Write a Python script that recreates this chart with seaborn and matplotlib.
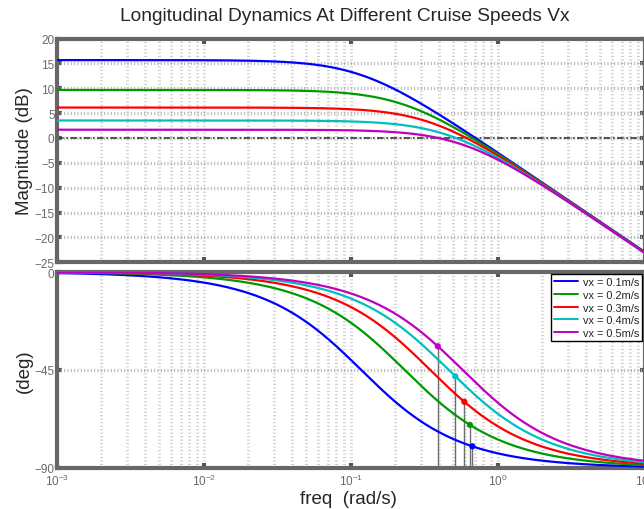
import numpy as np
import pandas as pd
import matplotlib
matplotlib.use("Agg")
import matplotlib.pyplot as plt
import seaborn as sns
from matplotlib.ticker import FixedLocator, NullFormatter, LogFormatterSciNotation

# Cruise speeds and the first-order lag identified at each speed
speeds = [0.1, 0.2, 0.3, 0.4, 0.5]
speed_labels = ["vx = 0.1m/s", "vx = 0.2m/s", "vx = 0.3m/s", "vx = 0.4m/s", "vx = 0.5m/s"]
dc_gain_db = [15.66, 9.66, 6.12, 3.52, 1.66]
pole_rad_s = [0.118, 0.233, 0.348, 0.465, 0.578]
# gain-crossover frequencies marked on the phase plot
crossover_rad_s = [0.672, 0.648, 0.593, 0.515, 0.391]
colors = ["#0000ff", "#009900", "#ff0000", "#00bfbf", "#bf00bf"]

mag_ticks = [-25, -20, -15, -10, -5, 0, 5, 10, 15, 20]
phase_ticks = [-90, -45, 0]
freq_decades = [1e-3, 1e-2, 1e-1, 1e0, 1e1]

sns.set_theme(style="white")
plt.rcParams["font.family"] = ["Liberation Sans", "DejaVu Sans"]
plt.rcParams["mathtext.fontset"] = "custom"
plt.rcParams["mathtext.rm"] = "Liberation Sans"
plt.rcParams["mathtext.it"] = "Liberation Sans:italic"
plt.rcParams["axes.unicode_minus"] = True

SPINE = "#676767"
TICKTXT = "#6a6a6a"

# frequency response of K / (1 + s/p)
w = np.logspace(-3, 1.02, 700)
rows = []
for lab, k_db, p in zip(speed_labels, dc_gain_db, pole_rad_s):
    mag = k_db - 10 * np.log10(1 + (w / p) ** 2)
    ph = -np.degrees(np.arctan(w / p))
    rows.append(pd.DataFrame({"freq": w, "mag": mag, "phase": ph, "speed": lab}))
resp = pd.DataFrame(pd.concat(rows, ignore_index=True))

marks = pd.DataFrame({
    "speed": speed_labels,
    "freq": crossover_rad_s,
    "phase": [-np.degrees(np.arctan(f / p)) for f, p in zip(crossover_rad_s, pole_rad_s)],
})

palette = dict(zip(speed_labels, colors))

fig = plt.figure(figsize=(6.44, 5.10), dpi=100)
W, H = 644.0, 510.0
x0, x1 = 56.7, 644.7
ax_mag = fig.add_axes([x0 / W, (H - 263.3) / H, (x1 - x0) / W, (263.3 - 39.5) / H])
ax_ph = fig.add_axes([x0 / W, (H - 469.0) / H, (x1 - x0) / W, (469.0 - 273.0) / H])


def style_axes(ax, yticks, ylim):
    ax.set_xscale("log")
    ax.set_xlim(1e-3, 1e1)
    ax.set_ylim(*ylim)
    ax.set_facecolor("white")
    # vertical grid at 1..9 of each decade
    verticals = [m * d for d in freq_decades[:-1] for m in range(1, 10)][1:]
    for f in verticals:
        ax.axvline(f, color="#cdcdcd", lw=2.2, ls=(0, (0.34, 0.8)), zorder=0.5)
    for yv in yticks[1:-1]:
        ax.axhline(yv, color="#b2b2b2", lw=2.4, ls=(0, (0.3, 0.7)), zorder=0.6)
    ax.xaxis.set_major_locator(FixedLocator(freq_decades))
    ax.xaxis.set_minor_locator(FixedLocator([]))
    ax.set_yticks(yticks)
    for s in ax.spines.values():
        s.set_color(SPINE)
        s.set_linewidth(3.0)
        s.set_visible(True)
    ax.tick_params(which="major", direction="in", length=3.5, width=3.0,
                   color="#555555", top=True, right=True, bottom=True, left=True,
                   labelsize=8.5, labelcolor=TICKTXT, pad=1.5)
    ax.set_xlabel("")


# magnitude
style_axes(ax_mag, mag_ticks, (-25, 20))
ax_mag.axhline(0, color="#3a3a3a", lw=1.2, ls=(0, (4, 1.5, 1, 1.5)), zorder=1)
sns.lineplot(data=resp, x="freq", y="mag", hue="speed", hue_order=speed_labels,
             palette=palette, estimator=None, sort=False, linewidth=1.6,
             legend=False, ax=ax_mag, zorder=3)
ax_mag.xaxis.set_major_formatter(NullFormatter())
ax_mag.set_xlabel("")
ax_mag.set_ylabel("Magnitude (dB)", fontsize=13.5, labelpad=1)
ax_mag.set_title("Longitudinal Dynamics At Different Cruise Speeds Vx",
                 fontsize=13.8, pad=13, x=0.49)

# phase
style_axes(ax_ph, phase_ticks, (-90, 0))
ax_ph.tick_params(axis="x", pad=3.5)
ax_ph.vlines(marks["freq"], -90, marks["phase"], color="#6e6e6e", lw=1.0, zorder=2)
sns.lineplot(data=resp, x="freq", y="phase", hue="speed", hue_order=speed_labels,
             palette=palette, estimator=None, sort=False, linewidth=1.6,
             ax=ax_ph, zorder=3)
sns.scatterplot(data=marks, x="freq", y="phase", hue="speed", hue_order=speed_labels,
                palette=palette, s=20, edgecolor="none", legend=False,
                ax=ax_ph, zorder=4)
ax_ph.xaxis.set_major_formatter(LogFormatterSciNotation())
ax_ph.set_xlabel("freq  (rad/s)", fontsize=13.5)
ax_ph.xaxis.set_label_coords(0.497, -0.112)
ax_ph.set_ylabel("(deg)", fontsize=13.5, labelpad=1)

leg = ax_ph.legend(loc="upper right", bbox_to_anchor=(0.996, 0.99), fontsize=7.9,
                   frameon=True, fancybox=False, edgecolor="black", framealpha=1,
                   handlelength=2.2, handletextpad=0.4, labelspacing=0.24,
                   borderpad=0.3, borderaxespad=0.0)
leg.get_frame().set_linewidth(1.0)
for line in leg.get_lines():
    line.set_linewidth(1.4)
leg.set_zorder(10)

fig.savefig("out.png", dpi=100)
